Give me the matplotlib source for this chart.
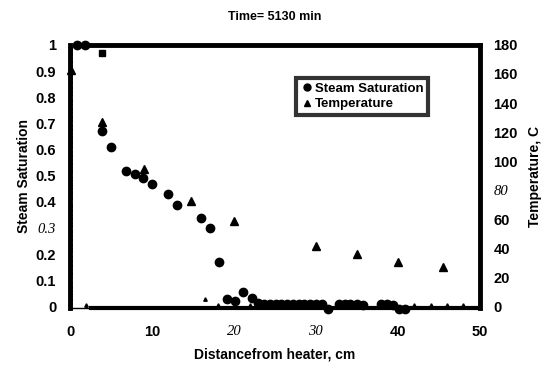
import matplotlib.pyplot as plt
from matplotlib.lines import Line2D

plt.rcParams['font.family'] = ['Liberation Sans', 'DejaVu Sans']
plt.rcParams['font.weight'] = 'bold'

# steam saturation (circles), left axis
sat_x = [0.85, 1.8, 3.9, 5.0, 6.8, 7.9, 8.9, 10.0, 11.9, 13.0, 16.0, 17.1, 18.2,
         19.1, 20.1, 21.1, 22.2, 23.0, 23.7, 24.4, 25.1, 25.8, 26.5, 27.2, 27.9,
         28.6, 29.3, 30.0, 30.7, 31.5, 32.8, 33.5, 34.2, 35.0, 35.7, 38.0, 38.7,
         39.4, 40.1, 40.9]
sat_y = [1.0, 1.0, 0.67, 0.61, 0.52, 0.505, 0.49, 0.47, 0.43, 0.39, 0.34, 0.30, 0.17,
         0.03, 0.02, 0.057, 0.035, 0.015, 0.012, 0.012, 0.012, 0.012, 0.01, 0.01, 0.01,
         0.01, 0.01, 0.01, 0.01, -0.01, 0.01, 0.01, 0.01, 0.01, 0.005, 0.01, 0.01,
         0.005, -0.01, -0.01]

# temperature (triangles), right axis
temp_x = [0.1, 3.9, 9.0, 14.8, 20.0, 30.0, 35.0, 40.0, 45.5]
temp_y = [163, 127, 94.5, 72.5, 59, 42, 36, 31, 27]

# stray small marks near zero
small_x = [2.0, 16.5, 18.0, 22.0, 42.0, 44.0, 46.0, 48.0]
small_y = [1.0, 5.0, 1.0, 1.0, 1.0, 1.0, 1.0, 1.0]

square_x = [3.9]
square_y = [0.97]

fig = plt.figure(figsize=(5.47, 3.68), dpi=100)
ax = fig.add_axes([0.128, 0.163, 0.749, 0.715])
ax2 = ax.twinx()

ax.plot(sat_x, sat_y, 'o', color='black', markersize=6, clip_on=False, zorder=5)
ax.plot(square_x, square_y, 's', color='black', markersize=5, clip_on=False)
ax2.plot(temp_x, temp_y, '^', color='black', markersize=6, clip_on=False, zorder=5)
ax2.plot(small_x, small_y, '^', color='black', markersize=2.5, clip_on=False)

ax.set_xlim(0, 50)
ax.set_ylim(-0.005, 1.0)
ax2.set_ylim(-0.9, 180)

ax.set_xticks([0, 10, 20, 30, 40, 50])
ax.set_yticks([0, 0.1, 0.2, 0.3, 0.4, 0.5, 0.6, 0.7, 0.8, 0.9, 1])
ax.set_yticklabels(['0', '0.1', '0.2', '0.3', '0.4', '0.5', '0.6', '0.7', '0.8', '0.9', '1'])
ax2.set_yticks(range(0, 181, 20))

ax.tick_params(axis='x', length=0, pad=12, labelsize=10.5)
ax.tick_params(axis='y', length=0, pad=10, labelsize=10.5)
ax.set_yticks([i / 100 for i in range(0, 101)], minor=True)
ax.tick_params(axis='y', which='minor', length=2.5, width=1.5, direction='in')
ax2.tick_params(axis='y', length=0, pad=10, labelsize=10.5)

for lab in ax.get_yticklabels():
    if lab.get_text() == '0.3':
        lab.set_fontfamily('Liberation Serif')
        lab.set_fontstyle('italic')
        lab.set_fontweight('normal')
for lab in ax.get_xticklabels():
    if lab.get_text() in ('20', '30'):
        lab.set_fontfamily('Liberation Serif')
        lab.set_fontstyle('italic')
        lab.set_fontweight('normal')
for lab in ax2.get_yticklabels():
    if lab.get_text() == '80':
        lab.set_fontfamily('Liberation Serif')
        lab.set_fontstyle('italic')
        lab.set_fontweight('normal')

for a in (ax, ax2):
    for s in a.spines.values():
        s.set_visible(False)
ax.spines['left'].set_visible(True)
ax.spines['left'].set_linewidth(3.5)
ax2.spines['right'].set_visible(True)
ax2.spines['right'].set_linewidth(3.5)

# top and bottom frame lines
ax.plot([2.5, 50], [1.0, 1.0], color='black', linewidth=3.5, clip_on=False, zorder=3)
ax.plot([2.5, 50], [-0.005, -0.005], color='black', linewidth=3.0, clip_on=False, zorder=3)
ax.plot([0, 2.5], [-0.005, -0.005], color='black', linewidth=1.0, clip_on=False, zorder=3)

ax.set_xlabel('Distancefrom heater, cm', fontsize=10, fontweight='bold', labelpad=6)
ax.set_ylabel('Steam Saturation', fontsize=10, fontweight='bold', labelpad=3)
ax2.set_ylabel('Temperature, C', fontsize=10, fontweight='bold', labelpad=7)
fig.text(0.503, 0.955, 'Time= 5130 min', ha='center', va='center', fontsize=9, fontweight='bold')

handles = [Line2D([], [], marker='o', color='black', linestyle='none', markersize=5),
           Line2D([], [], marker='^', color='black', linestyle='none', markersize=5)]
leg = ax.legend(handles, ['Steam Saturation', 'Temperature'], loc='upper left',
                bbox_to_anchor=(0.535, 0.9), frameon=True, fancybox=False,
                fontsize=9.5, handletextpad=0.1, handlelength=1.0, borderpad=0.35,
                labelspacing=0.25)
leg.get_frame().set_edgecolor('black')
leg.get_frame().set_linewidth(3)
for t in leg.get_texts():
    t.set_fontweight('bold')

fig.savefig('out.png', dpi=100)
